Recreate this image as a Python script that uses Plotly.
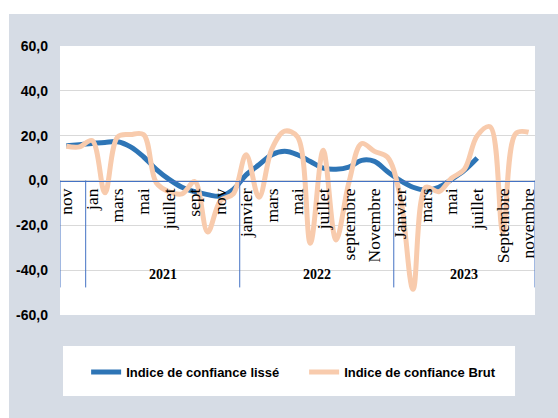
import plotly.graph_objects as go

# ---- data ----
month_labels = ["nov", "",
                "jan", "", "mars", "", "mai", "", "juillet", "", "sept", "", "nov", "",
                "janvier", "", "mars", "", "mai", "", "juillet", "", "septembre", "", "Novembre", "",
                "Janvier", "", "mars", "", "mai", "", "juillet", "", "Septembre", "", "novembre"]
years = ["2020"] * 2 + ["2021"] * 12 + ["2022"] * 12 + ["2023"] * 11
year_labels = {"2020": "", "2021": "2021", "2022": "2022", "2023": "2023"}

lisse = [15.5, 16.0, 16.5, 17.0, 17.3, 15.0, 10.6, 5.0, 0.5, -3.0, -5.0, -6.3, -7.0, -4.0,
         2.5, 7.0, 11.5, 13.0, 11.5, 8.5, 5.5, 5.0, 6.0, 9.0, 8.5, 4.0,
         0.0, -3.0, -4.2, -3.0, 0.5, 4.5, 10.0]
brut = [15.3, 15.0, 17.8, -5.5, 19.5, 20.5, 20.5, -1.0, -5.0, -6.0, -0.5, -23.0, -9.0, -6.0,
        11.5, -7.5, 14.0, 22.0, 19.5, -28.0, 13.5, -26.5, -1.0, 16.5, 13.0, 10.5,
        -7.0, -48.5, -3.0, -5.0, 1.0, 5.0, 20.0, 24.0, -23.0, 21.0, 21.5]

y_ticks = [-60, -40, -20, 0, 20, 40, 60]
y_ticktext = ["-60,0", "-40,0", "-20,0", "0,0", "20,0", "40,0", "60,0"]

series_names = ["Indice de confiance lissé", "Indice de confiance Brut"]
colors = ["#2E75B6", "#F8CBAD"]

# ---- figure ----
idx = list(range(len(month_labels)))
fig = go.Figure()
fig.add_trace(go.Scatter(x=idx[:len(lisse)], y=lisse, mode="lines", name=series_names[0],
                         line=dict(color=colors[0], width=5, shape="spline", smoothing=1.0)))
fig.add_trace(go.Scatter(x=idx, y=brut, mode="lines", name=series_names[1],
                         line=dict(color=colors[1], width=5, shape="spline", smoothing=1.0)))

tickvals = [i for i, m in enumerate(month_labels) if m]
ticktext = [m for m in month_labels if m]

AXIS_BLUE = "#4472C4"
shapes = [
    # white strips round the grey frame
    dict(type="rect", xref="paper", yref="paper", x0=-0.3, x1=1.3, y0=1.119, y1=1.3,
         fillcolor="white", line=dict(width=0), layer="below"),
    dict(type="rect", xref="paper", yref="paper", x0=-0.3, x1=-0.1074, y0=-0.6, y1=1.3,
         fillcolor="white", line=dict(width=0), layer="below"),
    # legend box
    dict(type="rect", xref="paper", yref="paper", x0=0.0063, x1=0.958, y0=-0.301, y1=-0.115,
         fillcolor="white", line=dict(width=0), layer="below"),
]

# year group dividers and labels
n = len(years)
bounds = [-0.5] + [i - 0.5 for i in range(1, n) if years[i] != years[i - 1]] + [n - 0.5]
for b in bounds:
    shapes.append(dict(type="line", xref="x", yref="y", x0=b, x1=b, y0=0, y1=-47.7,
                       line=dict(color=AXIS_BLUE, width=1)))
annotations = []
for y in dict.fromkeys(years):
    members = [i for i, yy in enumerate(years) if yy == y]
    txt = year_labels[y]
    if txt:
        annotations.append(dict(x=sum(members) / len(members), y=-42, xref="x", yref="y",
                                text=txt, showarrow=False,
                                font=dict(family="Liberation Serif", size=14, color="black",
                                          weight="bold")))

fig.update_layout(
    width=558, height=418,
    margin=dict(l=60, r=23, t=46, b=103),
    paper_bgcolor="#D6DCE5",
    plot_bgcolor="white",
    shapes=shapes,
    annotations=annotations,
    showlegend=True,
    legend=dict(orientation="h", x=0.055, y=-0.212, xanchor="left", yanchor="middle",
                bgcolor="rgba(0,0,0,0)", entrywidth=173, entrywidthmode="pixels",
                font=dict(family="Liberation Sans", size=13, color="black", weight="bold")),
    xaxis=dict(range=[-0.5, n - 0.5], anchor="free", position=0.5,
               showgrid=False, zeroline=False, showline=True, linecolor=AXIS_BLUE, linewidth=1,
               tickmode="array", tickvals=tickvals, ticktext=ticktext, tickangle=-90,
               ticks="", tickfont=dict(family="Liberation Serif", size=17.5, color="black")),
    yaxis=dict(range=[-60, 60], tickmode="array", tickvals=y_ticks, ticktext=y_ticktext,
               showgrid=True, gridcolor="#D9D9D9", gridwidth=1, zeroline=False, showline=False,
               ticks="", ticklabelstandoff=11,
               tickfont=dict(family="Liberation Sans", size=14, color="black", weight="bold")),
)

fig.write_html("out.html", config={"displayModeBar": False},
               post_script="document.body.style.margin='0';document.body.style.padding='0';")
